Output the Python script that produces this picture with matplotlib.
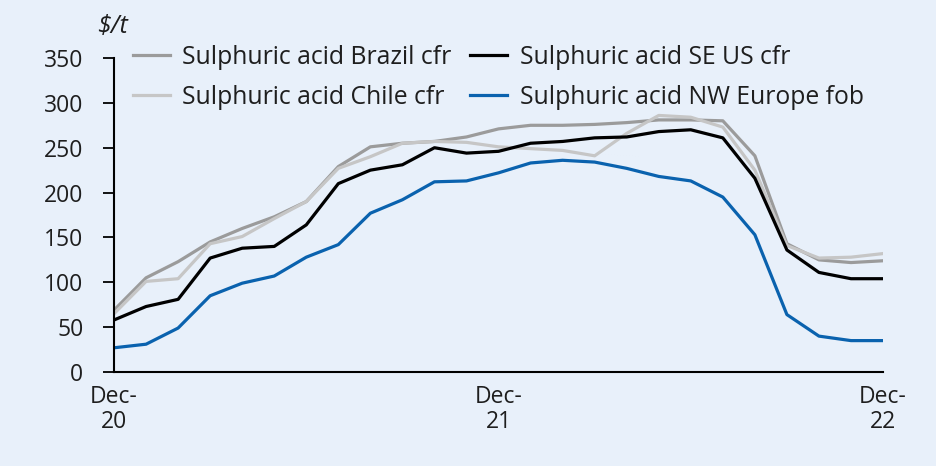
"""Sulphuric acid prices, Dec-20 to Dec-22."""
import matplotlib
matplotlib.use("Agg")
import matplotlib.pyplot as plt

months = list(range(25))
tick_pos = [0, 12, 24]
tick_labels = ["Dec-\n20", "Dec-\n21", "Dec-\n22"]

brazil = [69, 105, 123, 145, 160, 173, 190, 229, 251, 255, 257, 262, 271,
          275, 275, 276, 278, 281, 281, 280, 241, 143, 125, 122, 124]
chile = [65, 101, 104, 143, 151, 171, 190, 227, 240, 255, 257, 256, 251,
         249, 247, 241, 266, 286, 284, 273, 225, 141, 127, 128, 132]
se_us = [58, 73, 81, 127, 138, 140, 164, 210, 225, 231, 250, 244, 246,
         255, 257, 261, 262, 268, 270, 261, 216, 136, 111, 104, 104]
nw_europe = [27, 31, 49, 85, 99, 107, 128, 142, 177, 192, 212, 213, 222,
             233, 236, 234, 227, 218, 213, 195, 153, 64, 40, 35, 35]

BG = "#e8f0fa"
TXT = "#1e1e1e"
FS = 16.5
plt.rcParams["font.family"] = ["Open Sans", "DejaVu Sans"]

fig = plt.figure(figsize=(9.37, 4.66), dpi=100, facecolor=BG)
ax = fig.add_axes([0.1217, 0.2017, 0.8207, 0.6738])
ax.set_facecolor(BG)

ax.plot(months, brazil, color="#9b9b9b", lw=2.3, label="Sulphuric acid Brazil cfr")
ax.plot(months, chile, color="#c6c6c6", lw=2.3, label="Sulphuric acid Chile cfr")
ax.plot(months, se_us, color="#000000", lw=2.3, label="Sulphuric acid SE US cfr")
ax.plot(months, nw_europe, color="#0a62ae", lw=2.3, label="Sulphuric acid NW Europe fob")

ax.set_xlim(0, 24)
ax.set_ylim(0, 350)
ax.set_yticks(range(0, 351, 50))
ax.set_xticks(tick_pos)
ax.set_xticklabels(tick_labels, fontsize=FS, linespacing=1.1, color=TXT)
ax.tick_params(axis="y", direction="out", length=8, width=1.3,
               labelsize=FS, labelcolor=TXT, pad=14)
ax.tick_params(axis="x", length=0, pad=9)

for side in ["top", "right"]:
    ax.spines[side].set_visible(False)
for side in ["left", "bottom"]:
    ax.spines[side].set_linewidth(1.5)

handles, labels = ax.get_legend_handles_labels()
ax.legend(handles, labels, ncol=2, frameon=False, fontsize=17.8,
          loc="upper left", bbox_to_anchor=(0.142, 0.904),
          bbox_transform=fig.transFigure, handlelength=1.5,
          handletextpad=0.5, columnspacing=0.75, labelspacing=0.6,
          borderaxespad=0, borderpad=0, labelcolor=TXT)

fig.text(0.104, 0.93, "$/t", fontsize=18, style="italic", color=TXT)

fig.savefig("out.png", dpi=100, facecolor=BG)
